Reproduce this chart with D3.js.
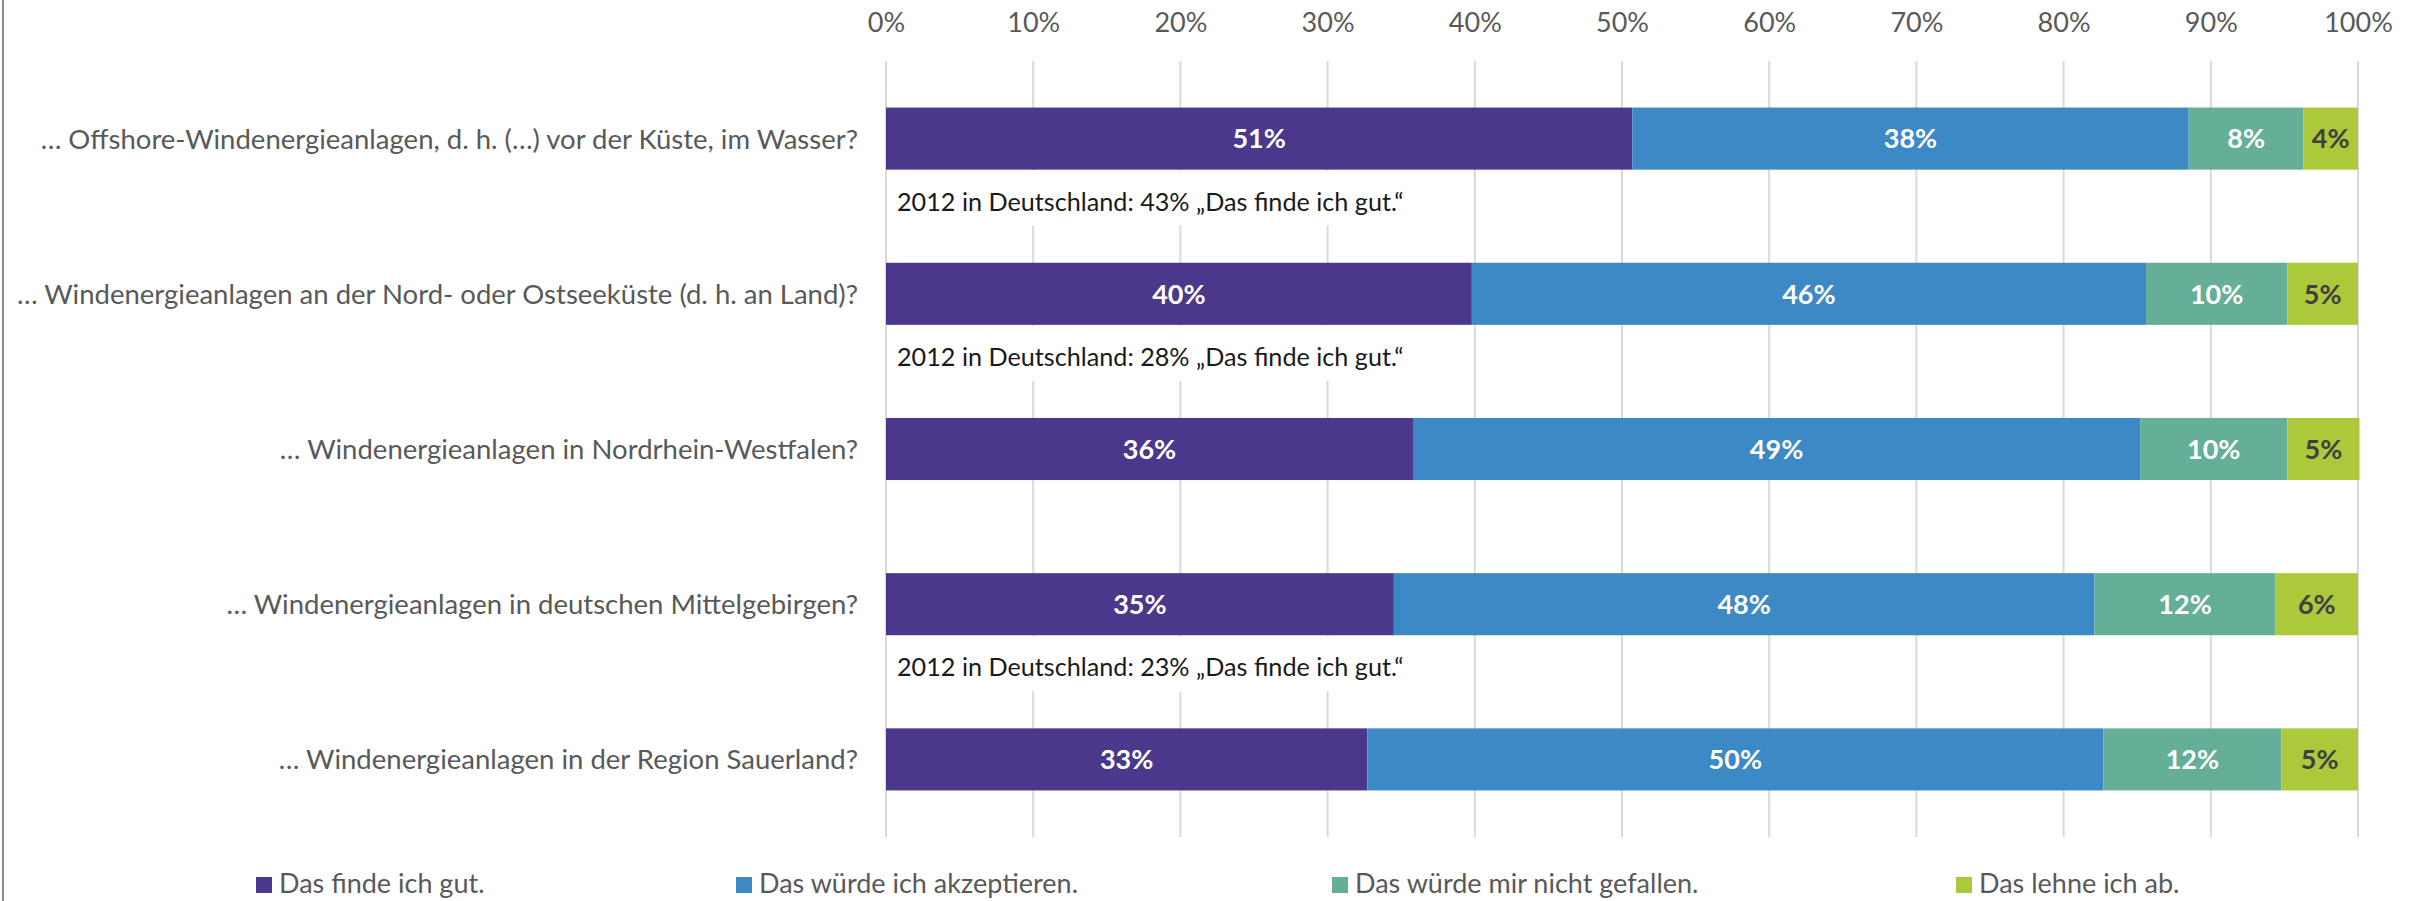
<!DOCTYPE html>
<html><head><meta charset="utf-8">
<script src="https://cdn.jsdelivr.net/npm/d3@7/dist/d3.min.js"></script>
<style>
body{margin:0;background:#fff;}
svg{display:block;font-family:Lato,"Open Sans",sans-serif;}
</style>
</head><body>
<svg id="chart" width="2420" height="901"></svg>
<script>
// ---------- data ----------
const categories = [
  "… Offshore-Windenergieanlagen, d. h. (…) vor der Küste, im Wasser?",
  "… Windenergieanlagen an der Nord- oder Ostseeküste (d. h. an Land)?",
  "… Windenergieanlagen in Nordrhein-Westfalen?",
  "… Windenergieanlagen in deutschen Mittelgebirgen?",
  "… Windenergieanlagen in der Region Sauerland?"
];
const seriesNames = ["Das finde ich gut.", "Das würde ich akzeptieren.", "Das würde mir nicht gefallen.", "Das lehne ich ab."];
const findeGut      = [50.7, 39.8, 35.8, 34.5, 32.7];
const akzeptieren   = [37.8, 45.8, 49.4, 47.6, 50.0];
const nichtGefallen = [7.8, 9.6, 10.0, 12.3, 12.1];
const lehneAb       = [3.7, 4.8, 4.9, 5.6, 5.2];
const tickValues = [0, 10, 20, 30, 40, 50, 60, 70, 80, 90, 100];
const tickLabels = ["0%", "10%", "20%", "30%", "40%", "50%", "60%", "70%", "80%", "90%", "100%"];
const annotationCategories = [categories[0], categories[1], categories[3]];
const annotationTexts = [
  "2012 in Deutschland: 43% „Das finde ich gut.“",
  "2012 in Deutschland: 28% „Das finde ich gut.“",
  "2012 in Deutschland: 23% „Das finde ich gut.“"
];

// ---------- styles ----------
const colors = ["#4B388C", "#3D89C6", "#65AE98", "#ABC93B"];
const labelColors = ["#ffffff", "#ffffff", "#ffffff", "#404040"];
const gray = "#595959";

const svg = d3.select("#chart");
const W = 2420, H = 901;

const x = d3.scaleLinear().domain([0, 100]).range([886, 2358]);
const y = d3.scaleBand().domain(categories).range([61, 837]).paddingInner(0.6).paddingOuter(0.3);

// left border
svg.append("line").attr("x1", 3).attr("x2", 3).attr("y1", 0).attr("y2", H)
  .attr("stroke", "#8a8a8a").attr("stroke-width", 2);

// gridlines
svg.append("g").selectAll("line").data(tickValues).join("line")
  .attr("x1", d => x(d)).attr("x2", d => x(d))
  .attr("y1", y.range()[0]).attr("y2", y.range()[1])
  .attr("stroke", "#d9d9d9").attr("stroke-width", 2);

// top axis labels
const axis = d3.axisTop(x).tickValues(tickValues).tickFormat((d, i) => tickLabels[i]).tickSize(0).tickPadding(0);
const ax = svg.append("g").attr("transform", "translate(0,32)").call(axis);
ax.select(".domain").remove();
ax.selectAll("text").attr("font-size", 27).attr("fill", gray).attr("font-family", "Lato").attr("dy", 0);

// stacked data
const table = categories.map((c, i) => ({cat: c, s0: findeGut[i], s1: akzeptieren[i], s2: nichtGefallen[i], s3: lehneAb[i]}));
const keys = ["s0", "s1", "s2", "s3"];
const stacked = d3.stack().keys(keys)(table);

const layers = svg.append("g").selectAll("g").data(stacked).join("g")
  .attr("fill", (d, i) => colors[i]);
layers.selectAll("rect").data(d => d).join("rect")
  .attr("x", d => x(d[0])).attr("width", d => x(d[1]) - x(d[0]))
  .attr("y", d => y(d.data.cat)).attr("height", y.bandwidth());

// value labels
const lab = svg.append("g").selectAll("g").data(stacked).join("g")
  .attr("fill", (d, i) => labelColors[i]);
lab.selectAll("text").data(d => d).join("text")
  .attr("x", d => (x(d[0]) + x(d[1])) / 2)
  .attr("y", d => y(d.data.cat) + y.bandwidth() / 2)
  .attr("dy", "0.36em")
  .attr("text-anchor", "middle")
  .attr("font-size", 27).attr("font-weight", "bold")
  .text(function(d) { const k = d3.select(this.parentNode).datum().key; return Math.round(d.data[k]) + "%"; });

// category labels
svg.append("g").selectAll("text").data(categories).join("text")
  .attr("x", x(0) - 28)
  .attr("y", d => y(d) + y.bandwidth() / 2)
  .attr("dy", "0.36em")
  .attr("text-anchor", "end")
  .attr("font-size", 27.5).attr("fill", gray)
  .text(d => d);

// annotations with white background boxes
const ann = svg.append("g").selectAll("g").data(annotationTexts).join("g");
ann.append("rect")
  .attr("x", x(0) + 2)
  .attr("y", (d, i) => y(annotationCategories[i]) + y.bandwidth() + 1)
  .attr("width", 560).attr("height", 55)
  .attr("fill", "#fff");
ann.append("text")
  .attr("x", x(0) + 11)
  .attr("y", (d, i) => y(annotationCategories[i]) + y.bandwidth() + 41)
  .attr("font-size", 25.2).attr("fill", "#1a1a1a")
  .text(d => d);

// legend
const legendX = [256, 736, 1332, 1956];
const leg = svg.append("g").selectAll("g").data(seriesNames).join("g")
  .attr("transform", (d, i) => `translate(${legendX[i]},877)`);
leg.append("rect").attr("width", 16).attr("height", 16).attr("fill", (d, i) => colors[i]);
leg.append("text").attr("x", 23).attr("y", 16).attr("font-size", 27).attr("fill", gray).text(d => d);
</script>
</body></html>
